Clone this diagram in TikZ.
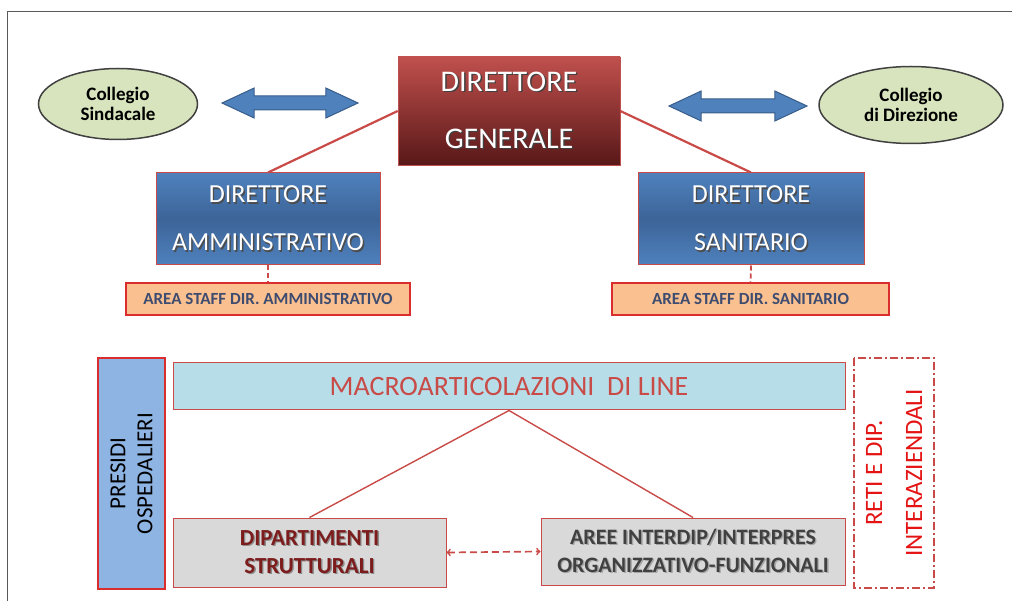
\documentclass[tikz,border=0pt]{standalone}
\usepackage{fontspec}
\setmainfont{Carlito}
\usetikzlibrary{shapes.geometric, shapes.arrows}
\definecolor{dgred}{RGB}{192,80,77}
\definecolor{dgdark}{RGB}{88,24,24}
\definecolor{dirblue}{RGB}{79,129,189}
\definecolor{dirmid}{RGB}{60,100,152}
\definecolor{arrowedge}{RGB}{56,93,138}
\definecolor{linered}{RGB}{200,75,72}
\definecolor{ovalgreen}{RGB}{215,228,189}
\definecolor{staffor}{RGB}{250,192,144}
\definecolor{staffred}{RGB}{218,45,45}
\definecolor{staffink}{RGB}{62,76,112}
\definecolor{presblue}{RGB}{142,180,227}
\definecolor{macroblue}{RGB}{183,222,232}
\definecolor{boxgrey}{RGB}{217,217,217}
\definecolor{dipred}{RGB}{125,28,28}
\definecolor{retired}{RGB}{228,20,20}
\newcommand{\shtxt}[2]{\makebox[0pt][l]{\hspace{1.4pt}\raisebox{-1.4pt}{\color{#1}#2}}#2}

\begin{document}
\begin{tikzpicture}[x=1pt, y=-1pt, >=stealth, semithick]
                        \tikzset{oval/.style={ellipse, draw=black!75, line width=1.5pt, fill=ovalgreen, minimum width=159pt, minimum height=71pt, inner sep=0pt, align=center, font=\bfseries\fontsize{19}{20}\selectfont}};
                        \tikzset{bigarrow/.style={double arrow, draw=arrowedge, fill=dirblue, line width=1pt, minimum height=136pt, minimum width=29pt, double arrow head extend=8pt, double arrow tip angle=50, inner xsep=0pt, inner ysep=6.5pt}};
                        \tikzset{dirbox/.style={draw=linered, line width=1pt, top color=dirblue, bottom color=dirblue, middle color=dirmid, text=white, minimum width=224pt, minimum height=92pt, align=center, font=\fontsize{26}{48}\selectfont}};
                        \tikzset{staffbox/.style={draw=staffred, line width=1.5pt, fill=staffor, text=staffink, minimum height=32pt, font=\bfseries\fontsize{17}{19}\selectfont}};
                        \tikzset{greybox/.style={draw=linered, line width=1pt, fill=boxgrey, align=center, font=\bfseries\fontsize{22}{28}\selectfont}};
                        \tikzset{link/.style={draw=linered, line width=2.2pt}};
                        \tikzset{thinlink/.style={draw=linered, line width=1.4pt}};
                        \useasboundingbox (0,0) rectangle (1012,601);
                        \draw[black!65, line width=1pt] (7,601) -- (7,12) -- (1012,12);
                        \node[oval] (colsin) at (118,104) {Collegio\\Sindacale};
                        \node[oval, minimum width=184pt, minimum height=77pt] (coldir) at (911,105) {Collegio\\di Direzione};
                        \node[bigarrow] (arrsin) at (290,103) {};
                        \node[bigarrow, minimum height=138pt, minimum width=26pt] (arrdir) at (738,106) {};
                        \node[draw=dgred, top color=dgred, bottom color=dgdark, text=white, minimum width=222pt, minimum height=108pt, align=center, font=\fontsize{30}{57}\selectfont] (dg) at (509,111) {\shtxt{black!75}{DIRETTORE}\\\shtxt{black!75}{GENERALE}};
                        \node[dirbox] (da) at (268,219) {\shtxt{black!70}{DIRETTORE}\\\shtxt{black!70}{AMMINISTRATIVO}};
                        \node[dirbox, minimum width=226pt] (ds) at (751,219) {\shtxt{black!70}{DIRETTORE}\\\shtxt{black!70}{SANITARIO}};
                        \node[staffbox, minimum width=284pt] (staffda) at (268,299) {AREA STAFF DIR. AMMINISTRATIVO};
                        \node[staffbox, minimum width=277pt] (staffds) at (750.5,299) {AREA STAFF DIR. SANITARIO};
                        \draw[link] (dg.west) -- (da.north);
                        \draw[link] (dg.east) -- (ds.north);
                        \draw[link, line width=1.8pt, dash pattern=on 5pt off 3pt] (da.south) -- (staffda.north);
                        \draw[link, line width=1.8pt, dash pattern=on 5pt off 3pt] (ds.south) -- (staffds.north);
                        \node[draw=staffred, line width=1.8pt, fill=presblue, rotate=90, minimum width=231pt, minimum height=67pt, align=center, font=\fontsize{23}{27}\selectfont] (presidi) at (131.5,473.5) {PRESIDI\\OSPEDALIERI};
                        \node[draw=linered, line width=1pt, fill=macroblue, text=linered, minimum width=672pt, minimum height=47pt, font=\fontsize{28}{30}\selectfont] (macro) at (509,386.5) {MACROARTICOLAZIONI\ \ DI LINE};
                        \node[greybox, minimum width=273pt, minimum height=69pt, text=dipred, font=\bfseries\fontsize{23}{28}\selectfont] (dip) at (309.5,552.5) {\shtxt{black!45}{DIPARTIMENTI}\\\shtxt{black!45}{STRUTTURALI}};
                        \node[greybox, minimum width=304pt, minimum height=67pt, text=black!75] (aree) at (693,551.5) {\shtxt{black!35}{AREE INTERDIP/INTERPRES}\\\shtxt{black!35}{ORGANIZZATIVO-FUNZIONALI}};
                        \node[draw=linered, line width=1.2pt, dash pattern=on 8pt off 3pt on 2pt off 3pt, text=retired, rotate=90, minimum width=230pt, minimum height=80pt, align=center, font=\fontsize{25}{40}\selectfont] (reti) at (894,473) {RETI E DIP.\\INTERAZIENDALI};
                        \draw[thinlink] (macro.south) -- (dip.north);
                        \draw[thinlink] (macro.south) -- (aree.north);
                        \draw[thinlink, line width=1.7pt, dash pattern=on 7pt off 4pt, <->, >=to] (dip.east) -- (aree.west);
                    \end{tikzpicture}
\end{document}
